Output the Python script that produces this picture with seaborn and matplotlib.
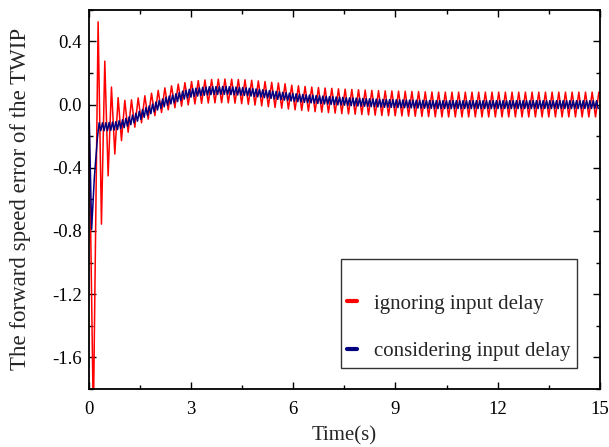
import numpy as np
import pandas as pd
import matplotlib
matplotlib.use("Agg")
import matplotlib.pyplot as plt
import seaborn as sns
from matplotlib.lines import Line2D
from matplotlib.ticker import MultipleLocator, FormatStrFormatter

# --- red: ignoring input delay (peaks / troughs) ---
red_start_t = [0.0, 0.13]
red_start_v = [0.0, -2.0]
RED_T0 = 0.27       # first peak
RED_HALF = 0.098    # half period of the red oscillation (s)
red_peaks = [0.524, 0.275, 0.111, 0.044, 0.027, 0.030, 0.042, 0.056, 0.072, 0.090,
             0.106, 0.119, 0.130, 0.139, 0.146, 0.152, 0.156, 0.159, 0.161, 0.162,
             0.161, 0.159, 0.157, 0.154, 0.150, 0.146, 0.141, 0.137, 0.132, 0.123,
             0.119, 0.115, 0.111, 0.108, 0.105, 0.103, 0.100, 0.098, 0.096, 0.094,
             0.092, 0.090, 0.088, 0.087, 0.086, 0.085, 0.084, 0.083, 0.082, 0.081,
             0.080] + [0.079] * 25
red_troughs = [-0.757, -0.451, -0.313, -0.228, -0.175, -0.143, -0.115, -0.092, -0.070, -0.050,
               -0.033, -0.020, -0.010, -0.002, 0.004, 0.008, 0.010, 0.011, 0.012, 0.011,
               0.009, 0.006, 0.002, -0.003, -0.008, -0.013, -0.018, -0.023, -0.028, -0.033,
               -0.037, -0.041, -0.045, -0.048, -0.051, -0.054, -0.057, -0.059, -0.061, -0.063,
               -0.065, -0.067, -0.069, -0.070, -0.071, -0.072, -0.073, -0.074, -0.075, -0.076,
               -0.077] + [-0.078] * 24

# --- blue: considering input delay ---
blue_start_t = [0.0, 0.08, 0.16, 0.25]
blue_start_v = [0.0, -0.79, -0.46, -0.21]
BLUE_T0 = 0.30
BLUE_HALF = 0.049
blue_hi = [-0.115, -0.115, -0.115, -0.113, -0.111, -0.108, -0.102, -0.096, -0.087, -0.077,
           -0.066, -0.055, -0.043, -0.031, -0.019, -0.008, 0.004, 0.016, 0.026, 0.036,
           0.046, 0.054, 0.061, 0.069, 0.077, 0.085, 0.091, 0.097, 0.101, 0.104,
           0.106, 0.109, 0.111, 0.113, 0.114, 0.114, 0.114, 0.115, 0.115, 0.113,
           0.112, 0.111, 0.109, 0.108, 0.106, 0.104, 0.101, 0.099, 0.097, 0.094,
           0.091, 0.089, 0.086, 0.083, 0.081, 0.078, 0.076, 0.073, 0.070, 0.068,
           0.066, 0.064, 0.062, 0.061, 0.059, 0.057, 0.056, 0.054, 0.053, 0.051,
           0.050, 0.048, 0.047, 0.046, 0.044, 0.043, 0.042, 0.041, 0.040, 0.039,
           0.038, 0.037, 0.036, 0.035, 0.034, 0.033, 0.033, 0.032, 0.031, 0.031,
           0.030, 0.030, 0.029, 0.029, 0.028, 0.028, 0.027, 0.027, 0.026, 0.026] + [0.025] * 50
blue_lo = [-0.165, -0.165, -0.165, -0.163, -0.161, -0.158, -0.152, -0.146, -0.137, -0.127,
           -0.116, -0.105, -0.093, -0.081, -0.069, -0.058, -0.046, -0.034, -0.024, -0.014,
           -0.004, 0.004, 0.011, 0.019, 0.027, 0.035, 0.041, 0.047, 0.051, 0.054,
           0.056, 0.059, 0.061, 0.063, 0.064, 0.064, 0.064, 0.065, 0.065, 0.063,
           0.062, 0.061, 0.059, 0.058, 0.056, 0.054, 0.051, 0.049, 0.047, 0.044,
           0.041, 0.039, 0.036, 0.033, 0.031, 0.028, 0.026, 0.023, 0.020, 0.018,
           0.016, 0.014, 0.012, 0.011, 0.009, 0.007, 0.006, 0.004, 0.003, 0.001,
           0.000, -0.002, -0.003, -0.004, -0.006, -0.007, -0.008, -0.009, -0.010, -0.011,
           -0.012, -0.013, -0.014, -0.015, -0.016, -0.017, -0.017, -0.018, -0.019, -0.019,
           -0.020, -0.020, -0.021, -0.021, -0.022, -0.022, -0.023, -0.023, -0.024, -0.024] + [-0.025] * 50


def zigzag(t0, half, ups, downs):
    vals = []
    for i in range(len(ups)):
        vals.append(ups[i])
        if i < len(downs):
            vals.append(downs[i])
    times = t0 + half * np.arange(len(vals))
    return list(times), vals


rt, rv = zigzag(RED_T0, RED_HALF, red_peaks, red_troughs)
bt, bv = zigzag(BLUE_T0, BLUE_HALF, blue_hi, blue_lo)
df_red = pd.DataFrame({'t': red_start_t + rt, 'err': red_start_v + rv})
df_blue = pd.DataFrame({'t': blue_start_t + bt, 'err': blue_start_v + bv})

sns.set_style("ticks")
plt.rcParams['font.family'] = ['Liberation Serif', 'DejaVu Serif']
plt.rcParams['axes.unicode_minus'] = False

fig = plt.figure(figsize=(6.09, 4.47), dpi=100)
ax = fig.add_axes([0.146, 0.130, 0.839, 0.848])

sns.lineplot(data=df_red, x='t', y='err', color='#ff0000', lw=1.1,
             estimator=None, sort=False, ax=ax)
sns.lineplot(data=df_blue, x='t', y='err', color='#000080', lw=1.1,
             estimator=None, sort=False, ax=ax)

ax.set_xlim(0, 15)
ax.set_ylim(-1.8, 0.6)
ax.set_xticks([0, 3, 6, 9, 12, 15])
ax.xaxis.set_minor_locator(MultipleLocator(1.5))
ax.set_yticks([-1.6, -1.2, -0.8, -0.4, 0.0, 0.4])
ax.yaxis.set_minor_locator(MultipleLocator(0.2))
ax.yaxis.set_major_formatter(FormatStrFormatter('%.1f'))
ax.tick_params(which='both', direction='in', top=True, right=True,
               width=1, labelsize=13.5, colors='black')
ax.tick_params(which='major', length=5)
ax.tick_params(which='minor', length=3)
ax.tick_params(axis='x', pad=9)
ax.tick_params(axis='y', pad=5)
for s in ax.spines.values():
    s.set_linewidth(1.3)
    s.set_color('black')

ax.set_xlabel('Time(s)', fontsize=15, labelpad=6)
ax.set_ylabel('The forward speed error of the TWIP', fontsize=16.5, labelpad=15)

handles = [Line2D([], [], color='#ff0000', lw=3),
           Line2D([], [], color='#000080', lw=3)]
leg = ax.legend(handles, ['ignoring input delay', 'considering input delay'],
                loc='lower right', bbox_to_anchor=(0.955, 0.056), borderaxespad=0,
                fontsize=15, handlelength=0.5, handletextpad=0.8, labelspacing=1.35,
                borderpad=0.3, title=' ', title_fontsize=1, fancybox=False,
                framealpha=1, edgecolor='#333333')
leg.get_frame().set_linewidth(1.0)

fig.savefig('out.png', dpi=100)
